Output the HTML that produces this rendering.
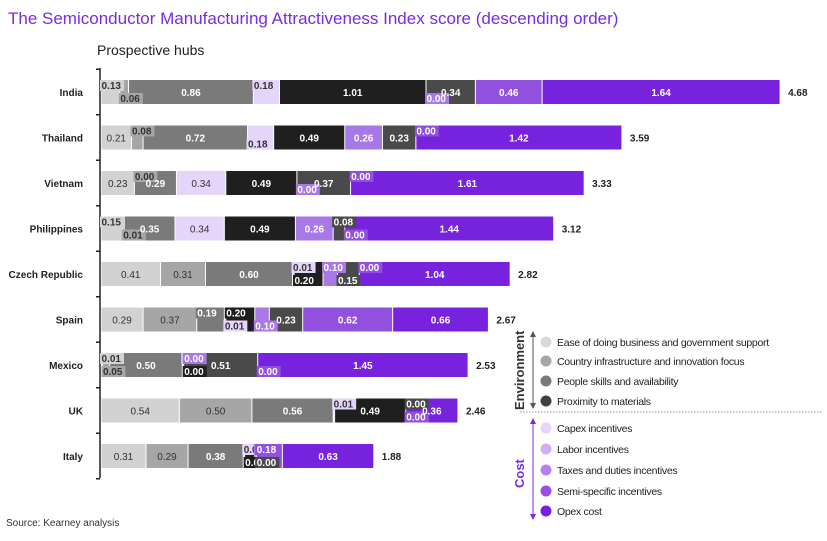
<!DOCTYPE html>
<html><head><meta charset="utf-8"><style>
body{margin:0;background:#fff;font-family:"Liberation Sans",sans-serif}
svg text{font-family:"Liberation Sans",sans-serif}
</style></head><body>
<svg id="c" width="827" height="536" viewBox="0 0 827 536">
<text x="8" y="24" font-size="17" fill="#7a2be0">The Semiconductor Manufacturing Attractiveness Index score (descending order)</text>
<text x="97" y="55" font-size="14" fill="#222">Prospective hubs</text>
<text x="6" y="526" font-size="10" fill="#333">Source: Kearney analysis</text>
<g id="bars"></g>
<g id="labels"></g>
<g id="legend"></g>
</svg>
<script>
const categories=["India","Thailand","Vietnam","Philippines","Czech Republic","Spain","Mexico","UK","Italy"];
const sEase=[0.13,0.21,0.23,0.15,0.41,0.29,0.01,0.54,0.31];
const sInfra=[0.06,0.08,0.00,0.01,0.31,0.37,0.05,0.50,0.29];
const sPeople=[0.86,0.72,0.29,0.35,0.60,0.19,0.50,0.56,0.38];
const sCapex=[0.18,0.18,0.34,0.34,0.01,0.01,0.01,0.01,0.01];
const sProx=[1.01,0.49,0.49,0.49,0.20,0.20,0.00,0.49,0.07];
const sLabor=[0.00,0.26,0.00,0.26,0.10,0.10,0.00,0.00,0.01];
const sOther=[0.34,0.23,0.37,0.08,0.15,0.23,0.51,0.00,0.00];
const sTaxes=[0.46,0.00,0.00,0.00,0.00,0.62,0.00,0.00,0.18];
const sOpex=[1.64,1.42,1.61,1.44,1.04,0.66,1.45,0.36,0.63];
const totals=["4.68","3.59","3.33","3.12","2.82","2.67","2.53","2.46","1.88"];
const series=[sEase,sInfra,sPeople,sCapex,sProx,sLabor,sOther,sTaxes,sOpex];
const seriesNames=["ease","infra","people","capex","proximity","labor","other","taxes","opex"];
const colors=["#d2d2d2","#a6a6a6","#7a7a7a","#e6d5fa","#1f1f1f","#a878e6","#4a4a4a","#9150dd","#7722dd"];
const txtColors=["#333","#333","#fff","#333","#fff","#fff","#fff","#fff","#fff"];
const NS="http://www.w3.org/2000/svg";
const x0=101, scale=145.1, y0=92, step=45.5, bh=24;
const xs=v=>x0+v*scale;
const ys=i=>y0+i*step;
const g=document.getElementById('bars');
const LB=document.getElementById('labels');
function mk(t,a,p){const e=document.createElementNS(NS,t);for(const k in a)e.setAttribute(k,a[k]);(p||g).appendChild(e);return e;}
const axis=mk('line',{x1:100,y1:68,x2:100,y2:478,stroke:'#222','stroke-width':1.5});


for(let i=0;i<=categories.length;i++){const t=mk('line',{x1:96,x2:100,y1:ys(i)-step/2,y2:ys(i)-step/2,stroke:'#222','stroke-width':1.5});

}
categories.forEach((c,i)=>{
 const cy=ys(i);
 const l=mk('text',{x:83,y:cy+4,'text-anchor':'end','font-size':10,'font-weight':'bold',fill:'#222'});l.textContent=c;
 
 
 let acc=0,small=0;
 series.forEach((s,k)=>{
  const v=s[i],xa=xs(acc),w=v*scale;acc+=v;
  if(w>0.5){const r=mk('rect',{x:xa+0.5,y:cy-bh/2,width:Math.max(w-1,0.8),height:bh,fill:colors[k]});
   
   }
  const lab=v.toFixed(2);
  if(w>=30){const t=mk('text',{x:xa+w/2,y:cy+4,'text-anchor':'middle','font-size':10,'font-weight':k>=4||k==2?'bold':'normal',fill:txtColors[k]},LB);t.textContent=lab;
   
   }
  else{const up=(small++%2===0);const ty=up?cy-3:cy+10;
   const bg=mk('rect',{x:xa-1,y:ty-9,width:24,height:11,fill:colors[k]},LB);
   
   
   const t=mk('text',{x:xa+0.5,y:ty,'font-size':10,'font-weight':'bold',fill:txtColors[k]},LB);t.textContent=lab;
   
   }
 });
 const tt=mk('text',{x:xs(acc)+8,y:cy+4,'font-size':10,'font-weight':'bold',fill:'#222'},LB);tt.textContent=totals[i];
 
 
});
const L=document.getElementById('legend');
const legNames=["Ease of doing business and government support","Country infrastructure and innovation focus","People skills and availability","Proximity to materials","Capex incentives","Labor incentives","Taxes and duties incentives","Semi-specific incentives","Opex cost"];
const legColors=["#d9d9d9","#a6a6a6","#7a7a7a","#404040","#e6d5fa","#d0b0f2","#b880ec","#9a4fe2","#7a1fe0"];
const legY=[342,361,381,401,428,449,470,491,511];
legNames.forEach((n,i)=>{
 const c=mk('circle',{cx:546,cy:legY[i],r:5.5,fill:legColors[i]},L);
 
 
 const t=mk('text',{x:557,y:legY[i]+4,'font-size':10.5,fill:'#222','letter-spacing':'-0.3'},L);t.textContent=n;
 
 
});
const sep=mk('line',{x1:520,x2:822,y1:412,y2:412,stroke:'#999','stroke-dasharray':'1.5 1.5'},L);


const a1=mk('line',{x1:533,x2:533,y1:333,y2:407,stroke:'#555','stroke-width':1},L);


mk('path',{d:'M530,337 L533,331 L536,337 Z M530,403 L533,409 L536,403 Z',fill:'#555'},L);
const a2=mk('line',{x1:533,x2:533,y1:420,y2:518,stroke:'#7a2be0','stroke-width':1},L);


mk('path',{d:'M530,424 L533,418 L536,424 Z M530,514 L533,520 L536,514 Z',fill:'#7a2be0'},L);
const e=mk('text',{x:0,y:0,'font-size':13,'font-weight':'bold',fill:'#333',transform:'translate(524,410) rotate(-90)'},L);e.textContent='Environment';


const co=mk('text',{x:0,y:0,'font-size':13,'font-weight':'bold',fill:'#7a2be0',transform:'translate(524,488) rotate(-90)'},L);co.textContent='Cost';


</script>
</body></html>
